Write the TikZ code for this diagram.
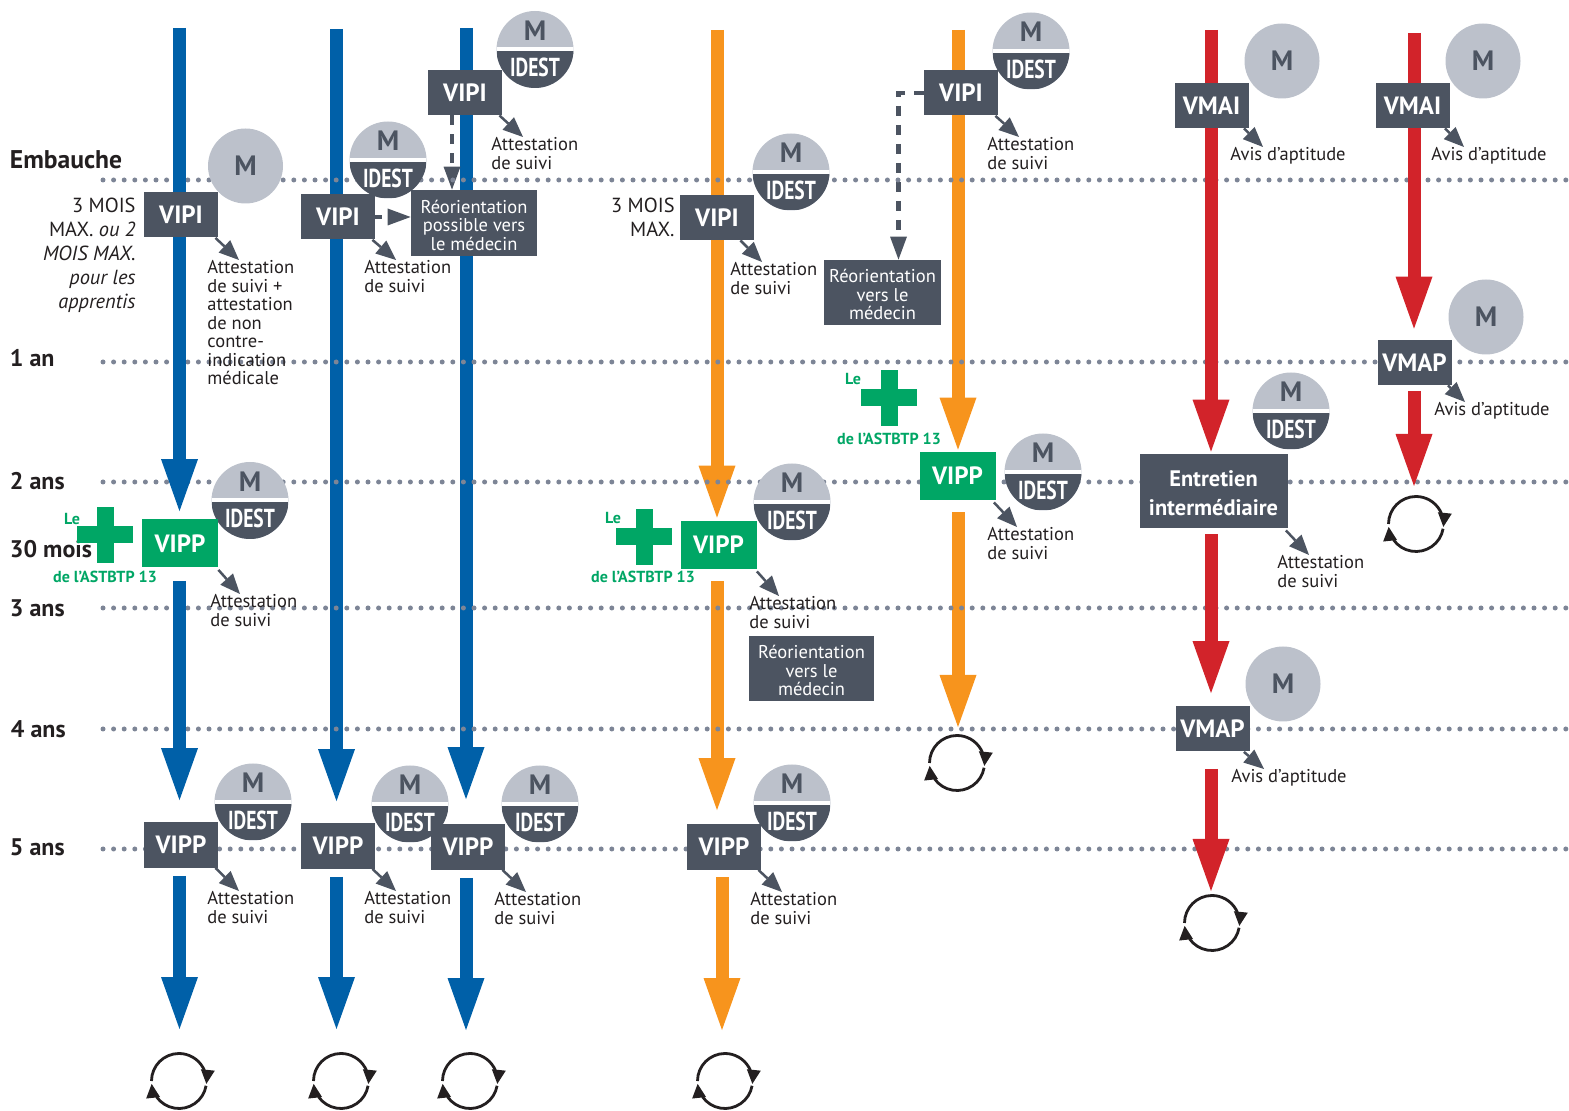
\documentclass[tikz,border=0pt]{standalone}
\usepackage{fontspec}
\setmainfont{PT Sans}
\usetikzlibrary{arrows.meta,bending,backgrounds}
\definecolor{slate}{HTML}{4C5461}
\definecolor{discgray}{HTML}{BCC1CB}
\definecolor{dotgray}{HTML}{7D8596}
\definecolor{barblue}{HTML}{0060A8}
\definecolor{barorange}{HTML}{F7941D}
\definecolor{barred}{HTML}{D2232A}
\definecolor{astgreen}{HTML}{00A665}
\definecolor{ink}{HTML}{231F20}
\newcommand{\lowerline}[1]{\rule{0pt}{#1}}
\tikzstyle{thickbar}=[line width=6.5pt,-{Triangle[length=26pt,width=18.5pt,line width=0pt]}]
\tikzstyle{bluebar}=[thickbar,draw=barblue]
\tikzstyle{orangebar}=[thickbar,draw=barorange]
\tikzstyle{redbar}=[thickbar,draw=barred]
\tikzstyle{visit}=[fill=slate,text=white,minimum width=37pt,minimum height=22.5pt,inner sep=0pt,font=\fontsize{12.5}{14}\selectfont\bfseries]
\tikzstyle{visitgreen}=[visit,fill=astgreen,minimum width=38pt,minimum height=24pt]
\tikzstyle{infobox}=[fill=slate,text=white,inner sep=0pt,align=center,font=\fontsize{9.25}{9.3}\selectfont]
\tikzstyle{note}=[inner sep=0pt,anchor=north west,align=left,text=ink,yshift=-1pt,font=\fontsize{9.25}{9.25}\selectfont]
\tikzstyle{year}=[inner sep=0pt,anchor=west,text=ink,font=\fontsize{12}{13}\selectfont\bfseries]
\tikzstyle{delay}=[inner sep=0pt,anchor=north east,align=right,text=ink,yshift=-2pt,font=\fontsize{10.2}{12}\selectfont]
\tikzstyle{astb}=[inner sep=0pt,text=astgreen,font=\fontsize{8}{9}\selectfont\bfseries]
\tikzstyle{notearrow}=[draw=slate,line width=1.25pt,-{Triangle[length=10pt,width=8.5pt,line width=0pt]}]
\tikzstyle{dasharrow}=[draw=slate,line width=2.25pt,dash pattern=on 5pt off 4.5pt,-{Triangle[length=11.5pt,width=8.5pt,line width=0pt]}]
\tikzstyle{dotline}=[draw=dotgray,line width=2.5pt,line cap=round,dash pattern=on 0pt off 5.3pt]
\tikzstyle{mdisc}=[circle,fill=discgray,minimum size=37.5pt,inner sep=0pt,text=slate,font=\fontsize{14}{16}\selectfont\bfseries]
\tikzstyle{idestdisc}=[circle,fill=discgray,minimum size=38.5pt,inner sep=0pt,path picture={
  \fill[slate] ([yshift=-1pt]path picture bounding box.west) rectangle (path picture bounding box.south east);
  \fill[white] ([yshift=1pt]path picture bounding box.west) rectangle ([yshift=-1pt]path picture bounding box.east);
  \node[text=slate,font=\fontsize{14}{16}\selectfont\bfseries] at ([yshift=9.5pt]path picture bounding box.center) {M};
  \node[text=white,font=\fontsize{13}{16}\selectfont\bfseries] at ([yshift=-9pt]path picture bounding box.center) {\scalebox{.75}[1]{IDEST}};
}]
\tikzset{
  greenplus/.pic={
    \fill[astgreen] (-28,-8.5) rectangle (28,8.5);
    \fill[astgreen] (-8.5,-28) rectangle (8.5,28);
  },
  loopsign/.pic={
    \draw[ink,line width=1.4pt,-{Triangle[length=7pt,width=7pt,flex=0,line width=0pt]}] (180:27.5) arc (180:366:27.5);
    \draw[ink,line width=1.4pt,-{Triangle[length=7pt,width=7pt,flex=0,line width=0pt]}] (10:27.5) arc (10:174:27.5);
  }
}
\begin{document}
\begin{tikzpicture}[x=0.5pt,y=-0.5pt]
\useasboundingbox (0,0) rectangle (1569,1111);

\coordinate (top1) at (179.5,28);
\coordinate (top2) at (336.5,29);
\coordinate (top3) at (466,28);
\coordinate (top4) at (717,30);
\coordinate (top5) at (958,30);
\coordinate (top6) at (1211,30);
\coordinate (top7) at (1414,33);
\coordinate (low4) at (722,877);
\coordinate (loop1) at (179,1081);
\coordinate (loop2) at (341,1081);
\coordinate (loop3) at (470,1081);
\coordinate (loop4) at (725,1081);
\coordinate (loop5) at (957,763);
\coordinate (loop6) at (1212,923);
\coordinate (loop7) at (1416,524);

\node[mdisc] at (245.5,166) (m1) {M};
\node[mdisc] at (1282,61) (m2) {M};
\node[mdisc] at (1483,61) (m3) {M};
\node[mdisc] at (1486,317) (m4) {M};
\node[mdisc] at (1283,684) (m5) {M};
\node[idestdisc] at (250,500.5) (idest1) {};
\node[idestdisc] at (253,802) (idest2) {};
\node[idestdisc] at (388,160) (idest3) {};
\node[idestdisc] at (410,804) (idest4) {};
\node[idestdisc] at (535,49.5) (idest5) {};
\node[idestdisc] at (540,804) (idest6) {};
\node[idestdisc] at (791,172) (idest7) {};
\node[idestdisc] at (792,502) (idest8) {};
\node[idestdisc] at (792,803) (idest9) {};
\node[idestdisc] at (1031,51) (idest10) {};
\node[idestdisc] at (1043,472) (idest11) {};
\node[idestdisc] at (1291,411) (idest12) {};

\node[visit] at (181,215) (vipi1) {VIPI};
\node[visit] at (338,217) (vipi2) {VIPI};
\node[visit] at (465,92.5) (vipi3) {VIPI};
\node[visit] at (717,217.5) (vipi4) {VIPI};
\node[visit] at (961,93) (vipi5) {VIPI};
\node[visit] at (1211.5,105.5) (vmai1) {VMAI};
\node[visit] at (1412.5,105.5) (vmai2) {VMAI};
\node[visit] at (1212.5,729) (vmap1) {VMAP};
\node[visit] at (1414.5,362.5) (vmap2) {VMAP};
\node[visit] at (181,845) (vipp2) {VIPP};
\node[visit] at (338,846) (vipp3) {VIPP};
\node[visit] at (468,847) (vipp4) {VIPP};
\node[visit] at (724,847) (vipp6) {VIPP};
\node[visitgreen] at (180,543.5) (vipp1) {VIPP};
\node[visitgreen] at (718.5,545) (vipp5) {VIPP};
\node[visitgreen] at (957.5,476) (vipp7) {VIPP};

\node[infobox,minimum width=63pt,minimum height=33pt] at (474,223) (reor1) {\lowerline{9pt}Réorientation\\possible vers\\le médecin};
\node[infobox,minimum width=58.5pt,minimum height=32.5pt] at (882.5,292.5) (reor2) {\lowerline{9pt}Réorientation\\vers le\\médecin};
\node[infobox,minimum width=62.5pt,minimum height=32.5pt] at (811.5,668.5) (reor3) {\lowerline{9pt}Réorientation\\vers le\\médecin};
\node[infobox,minimum width=74pt,minimum height=37pt,font=\fontsize{11.2}{14.5}\selectfont\bfseries] at (1213.5,491) (entretien) {\lowerline{10.5pt}Entretien\\intermédiaire};

\node[note] at (207,258) (att1) {Attestation\\de suivi +\\attestation\\de non\\contre-\\indication\\médicale};
\node[note] at (364,258) (att2) {Attestation\\de suivi};
\node[note] at (491,135) (att3) {Attestation\\de suivi};
\node[note] at (730,260) (att4) {Attestation\\de suivi};
\node[note] at (987,135) (att5) {Attestation\\de suivi};
\node[note] at (210,592) (att6) {Attestation\\de suivi};
\node[note] at (207,889) (att7) {Attestation\\de suivi};
\node[note] at (364,889) (att8) {Attestation\\de suivi};
\node[note] at (494,890) (att9) {Attestation\\de suivi};
\node[note] at (749,594) (att10) {Attestation\\de suivi};
\node[note] at (750,890) (att11) {Attestation\\de suivi};
\node[note] at (987,525) (att12) {Attestation\\de suivi};
\node[note] at (1277,553) (att13) {Attestation\\de suivi};
\node[note] at (1230,145) (avis1) {Avis d’aptitude};
\node[note] at (1431,145) (avis2) {Avis d’aptitude};
\node[note] at (1434,400) (avis3) {Avis d’aptitude};
\node[note] at (1231,767) (avis4) {Avis d’aptitude};

\node[year,font=\fontsize{12.8}{13}\selectfont\bfseries] at (9.5,160) (embauche) {Embauche};
\node[year] at (9.5,358) (an1) {1 an};
\node[year] at (9.5,481) (an2) {2 ans};
\node[year] at (9.5,549) (mois30) {30 mois};
\node[year] at (9.5,608) (an3) {3 ans};
\node[year] at (10.5,729) (an4) {4 ans};
\node[year] at (9.5,847) (an5) {5 ans};

\node[delay] at (136,194) (delay1) {3 MOIS\\MAX. \itshape ou 2\\\itshape MOIS MAX.\\\itshape pour les\\\itshape apprentis};
\node[delay] at (675,194) (delay2) {3 MOIS\\MAX.};

\pic at (105,535) {greenplus};
\pic at (644,537) {greenplus};
\pic at (889,398) {greenplus};
\node[astb] at (72,519) (le1) {Le};
\node[astb] at (105,577) (ast1) {de l’ASTBTP 13};
\node[astb] at (613,518) (le2) {Le};
\node[astb] at (643,577) (ast2) {de l’ASTBTP 13};
\node[astb] at (853,379) (le3) {Le};
\node[astb] at (889,439) (ast3) {de l’ASTBTP 13};

\pic at (loop1) {loopsign};
\pic at (loop2) {loopsign};
\pic at (loop3) {loopsign};
\pic at (loop4) {loopsign};
\pic at (loop5) {loopsign};
\pic at (loop6) {loopsign};
\pic at (loop7) {loopsign};

\draw[notearrow] ([xshift=-1.5pt]vipi1.south east) -- ([xshift=16pt]att1.north west);
\draw[notearrow] ([xshift=-1.5pt]vipi2.south east) -- ([xshift=16pt]att2.north west);
\draw[notearrow] ([xshift=-1.5pt]vipi3.south east) -- ([xshift=16pt]att3.north west);
\draw[notearrow] ([xshift=-7pt]vipi4.south east) -- ([xshift=16pt]att4.north west);
\draw[notearrow] ([xshift=-1.5pt]vipi5.south east) -- ([xshift=16pt]att5.north west);
\draw[notearrow] ([yshift=-1pt]vipp1.south east) -- ([xshift=15pt]att6.north west);
\draw[notearrow] ([xshift=-1.5pt]vipp2.south east) -- ([xshift=16pt]att7.north west);
\draw[notearrow] ([xshift=-1.5pt]vipp3.south east) -- ([xshift=16pt]att8.north west);
\draw[notearrow] ([xshift=-1.5pt]vipp4.south east) -- ([xshift=16pt]att9.north west);
\draw[notearrow] ([yshift=-1pt]vipp5.south east) -- ([xshift=15pt]att10.north west);
\draw[notearrow] ([xshift=-1.5pt]vipp6.south east) -- ([xshift=16pt]att11.north west);
\draw[notearrow] ([xshift=-1pt,yshift=-1pt]vipp7.south east) -- ([xshift=15pt]att12.north west);
\draw[notearrow] ([xshift=-1pt,yshift=-1pt]entretien.south east) -- ([xshift=16pt]att13.north west);
\draw[notearrow] ([xshift=-2.5pt]vmai1.south east) -- ([xshift=16.5pt]avis1.north west);
\draw[notearrow] ([xshift=-2.5pt]vmai2.south east) -- ([xshift=16.5pt]avis2.north west);
\draw[notearrow] ([xshift=-2pt]vmap2.south east) -- ([xshift=15.5pt]avis3.north west);
\draw[notearrow] ([xshift=-3pt]vmap1.south east) -- ([xshift=16.5pt]avis4.north west);

\begin{scope}[on background layer]
\draw[bluebar,shorten >=11pt] (top2) -- (top2 |- vipp3.north);
\draw[bluebar,shorten >=12.5pt] (top3) -- (top3 |- vipp4.north);
\draw[orangebar,shorten >=1.5pt] (top4) -- (top4 |- vipp5.north);
\draw[orangebar,shorten <=6pt,shorten >=7pt] (top4 |- vipp5.south) -- (top4 |- vipp6.north);
\draw[orangebar,shorten >=1pt] (top5) -- (top5 |- vipp7.north);
\draw[orangebar,shorten <=6pt,shorten >=18pt] (top5 |- vipp7.south) -- (top5 |- loop5);
\draw[dasharrow] ([xshift=-11pt]reor1.north |- vipi3.south) -- ([xshift=-11pt]reor1.north);
\draw[dasharrow,dash phase=1.5pt] (vipi2.east) -- (vipi2.east -| reor1.west);
\draw[dasharrow] (vipi5.west) -| ([xshift=8pt]reor2.north);
\foreach \y in {180,362,482,608,729,849}
  \draw[dotline] (103,\y) -- (1569,\y);
\draw[bluebar,shorten >=4pt] (top1) -- (top1 |- vipp1.north);
\draw[bluebar,shorten <=6.5pt,shorten >=11pt] (top1 |- vipp1.south) -- (top1 |- vipp2.north);
\draw[bluebar,shorten <=4pt,shorten >=26pt] (top1 |- vipp2.south) -- (top1 |- loop1);
\draw[bluebar,shorten <=4pt,shorten >=26pt] (top2 |- vipp3.south) -- (top2 |- loop2);
\draw[bluebar,shorten <=4pt,shorten >=25.5pt] (top3 |- vipp4.south) -- (top3 |- loop3);
\draw[orangebar,shorten >=25.5pt] (low4) -- (low4 |- loop4);
\draw[redbar,shorten >=1pt] (top6) -- (top6 |- entretien.north);
\draw[redbar,shorten <=3pt,shorten >=6.5pt] (top6 |- entretien.south) -- (top6 |- vmap1.north);
\draw[redbar,shorten <=8.5pt,shorten >=16pt] (top6 |- vmap1.south) -- (top6 |- loop6);
\draw[redbar,shorten >=5.5pt] (top7) -- (top7 |- vmap2.north);
\draw[redbar,shorten <=3pt,shorten >=19pt] (top7 |- vmap2.south) -- (top7 |- loop7);
\end{scope}
\end{tikzpicture}
\end{document}
